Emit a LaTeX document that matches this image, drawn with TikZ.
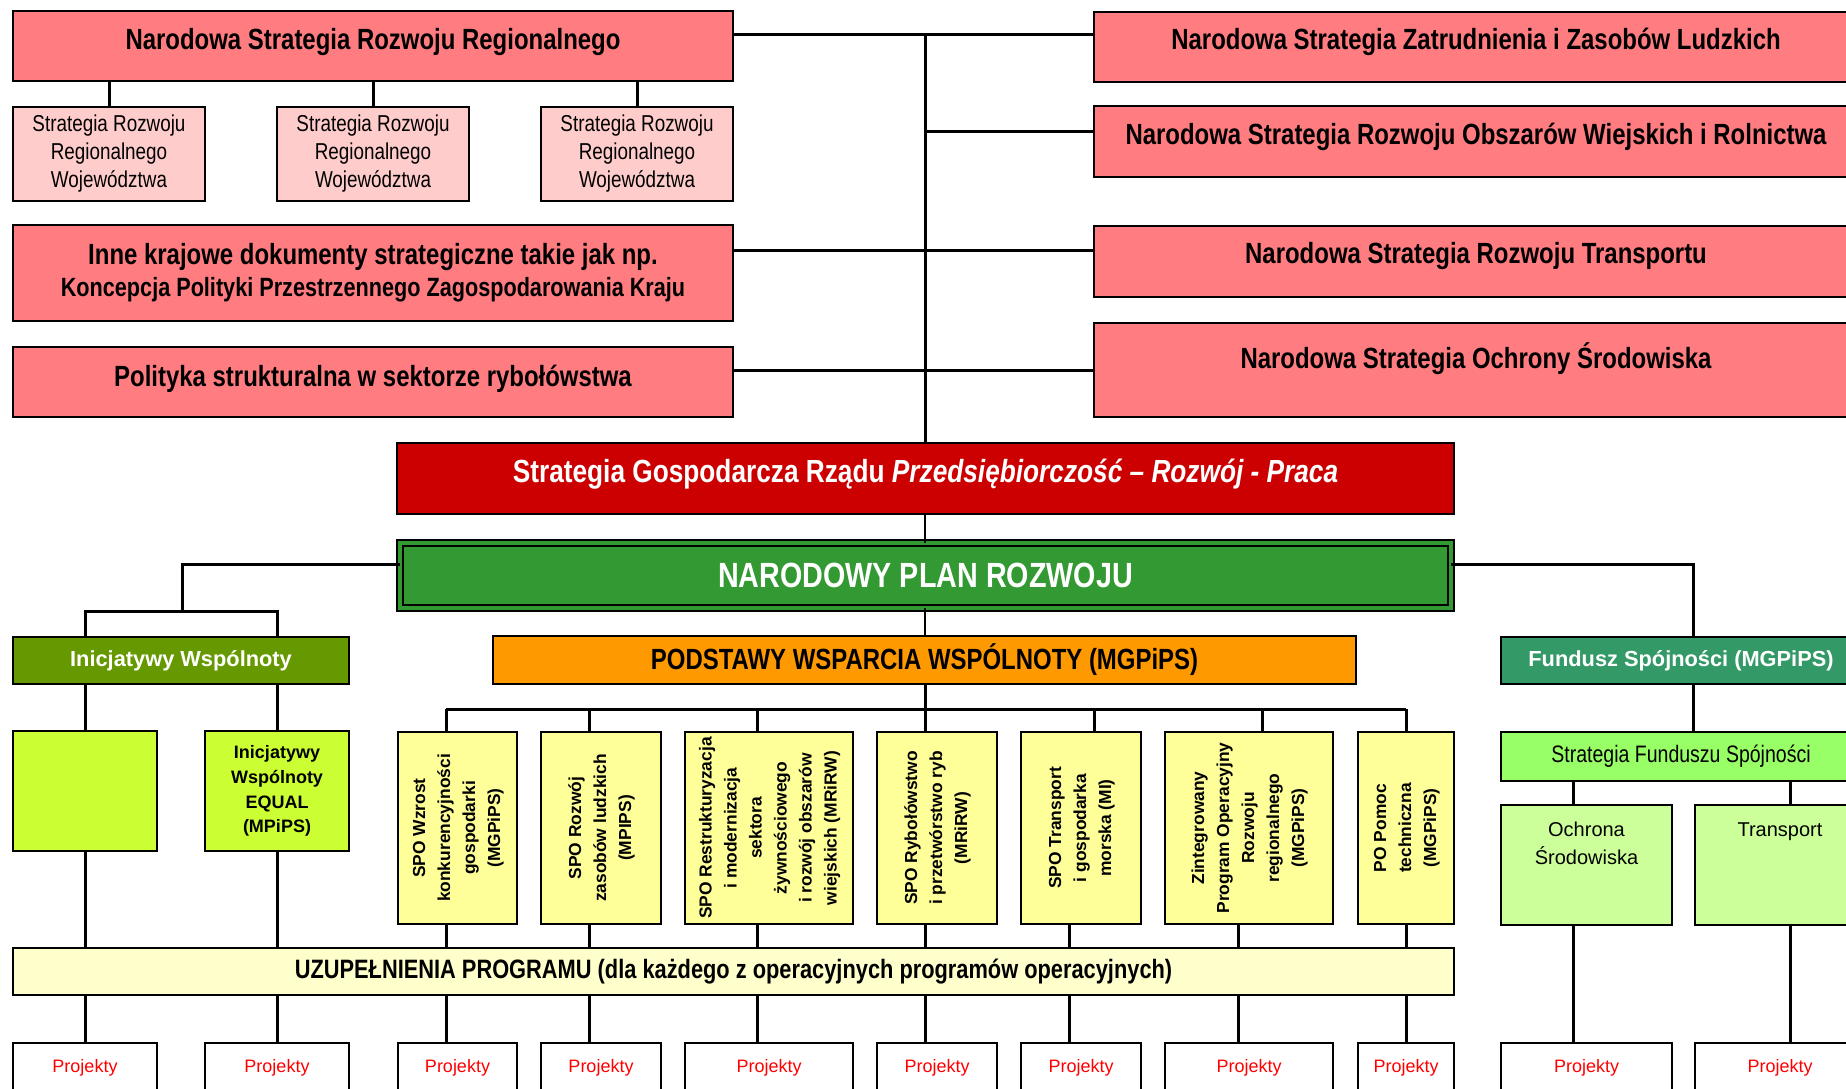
\documentclass[tikz,border=0pt]{standalone}
\usepackage{fontspec}
\usepackage{graphicx}
\setmainfont{Liberation Sans}[FakeStretch=0.82]
\newfontfamily\widesans{Liberation Sans}

\definecolor{salmon}{HTML}{FF7C80}
\definecolor{pinklight}{HTML}{FFCCCC}
\definecolor{sgrred}{HTML}{CC0000}
\definecolor{nprgreen}{HTML}{339933}
\definecolor{iwgreen}{HTML}{669900}
\definecolor{limegreen}{HTML}{CCFF33}
\definecolor{pwsorange}{HTML}{FF9900}
\definecolor{spoyellow}{HTML}{FFFF99}
\definecolor{uzupyellow}{HTML}{FFFFCC}
\definecolor{fsgreen}{HTML}{339966}
\definecolor{sfsgreen}{HTML}{99FF66}
\definecolor{ochgreen}{HTML}{CCFF99}

\newcommand{\vtext}[1]{\rotatebox{90}{\begin{tabular}{@{}c@{}}#1\end{tabular}}}

\tikzset{
  box/.style={draw=black, line width=1.2pt, anchor=north west, inner sep=1pt, outer sep=0pt, align=center},
  lift/.style={text height=10pt, text depth=#1},
  redbox/.style={box, fill=salmon, font=\fontsize{14.6}{17}\selectfont\bfseries},
  subbox/.style={box, fill=pinklight, minimum width=96pt, minimum height=47pt, font=\fontsize{11.5}{14}\selectfont},
  spobox/.style={box, fill=spoyellow, minimum height=96pt, inner sep=0pt, font=\widesans\fontsize{8.7}{12.5}\selectfont\bfseries},
  pbox/.style={box, fill=white, text=red, minimum height=25pt, font=\widesans\fontsize{9}{11}\selectfont},
  link/.style={line width=1.5pt},
  thinlink/.style={line width=0.7pt}
}

\begin{document}
\begin{tikzpicture}[x=1pt, y=-1pt]
\useasboundingbox (0,0) rectangle (923,544);
\clip (0,0) rectangle (923,544);

\node[redbox, lift=7pt, minimum width=360pt, minimum height=35pt] (nsrr) at (6.5,5.5) {Narodowa Strategia Rozwoju Regionalnego};
\node[subbox] (srw1) at (6.5,53.5) {Strategia Rozwoju\\Regionalnego\\Województwa};
\node[subbox] (srw2) at (138.5,53.5) {Strategia Rozwoju\\Regionalnego\\Województwa};
\node[subbox] (srw3) at (270.5,53.5) {Strategia Rozwoju\\Regionalnego\\Województwa};
\node[redbox, minimum width=360pt, minimum height=48pt] (inne) at (6.5,112.5) {Inne krajowe dokumenty strategiczne takie jak np.\\[-1pt]{\fontsize{13.2}{16}\selectfont Koncepcja Polityki Przestrzennego Zagospodarowania Kraju}};
\node[redbox, lift=6pt, minimum width=360pt, minimum height=35pt] (polit) at (6.5,173.5) {Polityka strukturalna w sektorze rybołówstwa};

\node[redbox, lift=8pt, minimum width=382pt, minimum height=35pt] (nszat) at (547,6) {Narodowa Strategia Zatrudnienia i Zasobów Ludzkich};
\node[redbox, lift=7pt, minimum width=382pt, minimum height=35.5pt] (nsrow) at (547,53) {Narodowa Strategia Rozwoju Obszarów Wiejskich i Rolnictwa};
\node[redbox, lift=8pt, minimum width=382pt, minimum height=35.5pt] (nstra) at (547,113) {Narodowa Strategia Rozwoju Transportu};
\node[redbox, lift=12pt, minimum width=382pt, minimum height=47pt] (nsos) at (547,161.5) {Narodowa Strategia Ochrony Środowiska};

\node[box, fill=sgrred, text=white, lift=6pt, font=\fontsize{16}{19}\selectfont\bfseries, minimum width=528.5pt, minimum height=35.5pt] (sgr) at (198.5,221.5) {Strategia Gospodarcza Rządu \textit{Przedsiębiorczość – Rozwój - Praca}};
\node[box, fill=nprgreen, line width=0.8pt, double=nprgreen, double distance=2.2pt, text=white, font=\fontsize{17.5}{20}\selectfont\bfseries, minimum width=525.5pt, minimum height=32.5pt] (npr) at (200,271.5) {NARODOWY PLAN ROZWOJU};

\node[box, fill=iwgreen, text=white, font=\widesans\fontsize{10.9}{13}\selectfont\bfseries, minimum width=168pt, minimum height=23.5pt] (iw) at (6.5,318.5) {Inicjatywy Wspólnoty};
\node[box, fill=limegreen, minimum width=72pt, minimum height=60pt] (iwa) at (6.5,365.5) {};
\node[box, fill=limegreen, font=\widesans\fontsize{9}{12.4}\selectfont\bfseries, minimum width=72pt, minimum height=60pt] (iwb) at (102.5,365.5) {Inicjatywy\\Wspólnoty\\EQUAL\\(MPiPS)};

\node[box, fill=pwsorange, font=\fontsize{14.6}{17}\selectfont\bfseries, minimum width=431.5pt, minimum height=24pt] (pws) at (246.5,318) {PODSTAWY WSPARCIA WSPÓLNOTY (MGPiPS)};
\node[spobox, minimum width=59.5pt] (spo1) at (199,366) {\vtext{SPO Wzrost\\konkurencyjności\\gospodarki\\(MGPiPS)}};
\node[spobox, minimum width=60pt] (spo2) at (270.5,366) {\vtext{SPO Rozwój\\zasobów ludzkich\\(MPIPS)}};
\node[spobox, minimum width=84pt] (spo3) at (342.5,366) {\vtext{SPO Restrukturyzacja\\i modernizacja\\sektora\\żywnościowego\\i rozwój obszarów\\wiejskich (MRiRW)}};
\node[spobox, minimum width=60pt] (spo4) at (438.5,366) {\vtext{SPO Rybołówstwo\\i przetwórstwo ryb\\(MRiRW)}};
\node[spobox, minimum width=60pt] (spo5) at (510.5,366) {\vtext{SPO Transport\\i gospodarka\\morska (MI)}};
\node[spobox, minimum width=84pt] (spo6) at (582.5,366) {\vtext{Zintegrowany\\Program Operacyjny\\Rozwoju\\regionalnego\\(MGPiPS)}};
\node[spobox, minimum width=48pt] (spo7) at (679,366) {\vtext{PO Pomoc\\techniczna\\(MGPiPS)}};

\node[box, fill=fsgreen, text=white, font=\widesans\fontsize{10.9}{13}\selectfont\bfseries, minimum width=180pt, minimum height=23.5pt] (fs) at (750.5,318.5) {Fundusz Spójności (MGPiPS)};
\node[box, fill=sfsgreen, font=\fontsize{11.9}{14}\selectfont, minimum width=180pt, minimum height=24.5pt] (sfs) at (750.5,366) {Strategia Funduszu Spójności};
\node[box, fill=ochgreen, minimum width=85.5pt, minimum height=60pt] (och) at (750.5,402.5) {};
\node[box, fill=ochgreen, minimum width=85pt, minimum height=60pt] (tra) at (847.5,402.5) {};
\node[anchor=north, inner sep=8.5pt, align=center, font=\widesans\fontsize{10}{14}\selectfont] (ochtxt) at (och.north) {Ochrona\\Środowiska};
\node[anchor=north, inner sep=8.5pt, align=center, font=\widesans\fontsize{10}{14}\selectfont] (tratxt) at (tra.north) {Transport};

\node[box, fill=uzupyellow, font=\fontsize{13.3}{16}\selectfont\bfseries, minimum width=720.5pt, minimum height=23.5pt] (uzup) at (6.5,474) {UZUPEŁNIENIA PROGRAMU (dla każdego z operacyjnych programów operacyjnych)};

\node[pbox, minimum width=72pt] (pj1) at (6.5,521.5) {Projekty};
\node[pbox, minimum width=72pt] (pj2) at (102.5,521.5) {Projekty};
\node[pbox, minimum width=59.5pt] (pj3) at (199,521.5) {Projekty};
\node[pbox, minimum width=60pt] (pj4) at (270.5,521.5) {Projekty};
\node[pbox, minimum width=84pt] (pj5) at (342.5,521.5) {Projekty};
\node[pbox, minimum width=60pt] (pj6) at (438.5,521.5) {Projekty};
\node[pbox, minimum width=60pt] (pj7) at (510.5,521.5) {Projekty};
\node[pbox, minimum width=84pt] (pj8) at (582.5,521.5) {Projekty};
\node[pbox, minimum width=48pt] (pj9) at (679,521.5) {Projekty};
\node[pbox, minimum width=85.5pt] (pj10) at (750.5,521.5) {Projekty};
\node[pbox, minimum width=85pt] (pj11) at (847.5,521.5) {Projekty};

\coordinate (tA) at (462.5,17);
\coordinate (tB) at (462.5,65.5);
\coordinate (tC) at (462.5,125);
\coordinate (tD) at (462.5,185);
\draw[link] (nsrr.east |- tA) -- (nszat.west |- tA);
\draw[link] (tB) -- (nsrow.west |- tB);
\draw[link] (inne.east |- tC) -- (nstra.west |- tC);
\draw[link] (polit.east |- tD) -- (nsos.west |- tD);
\draw[link] (tA) -- (tA |- sgr.north);
\draw[link] (srw1.north) -- (srw1.north |- nsrr.south);
\draw[link] (srw2.north) -- (srw2.north |- nsrr.south);
\draw[link] (srw3.north) -- (srw3.north |- nsrr.south);
\draw[thinlink] (sgr.south -| tA) -- (npr.north -| tA);
\draw[thinlink] (npr.south -| tA) -- (pws.north -| tA);

\coordinate (lbend) at (91,282);
\coordinate (lfork) at (91,305.5);
\draw[link] (npr.west |- lbend) -- (lbend) -- (lfork);
\draw[link] (iw.north -| iwa.north) |- (lfork) -| (iw.north -| iwb.north);
\draw[link] (iwa.north) -- (iwa.north |- iw.south);
\draw[link] (iwb.north) -- (iwb.north |- iw.south);
\draw[link] (iwa.south) -- (iwa.south |- uzup.north) (iwa.south |- uzup.south) -- (pj1.north);
\draw[link] (iwb.south) -- (iwb.south |- uzup.north) (iwb.south |- uzup.south) -- (pj2.north);

\coordinate (barL) at (223,354.5);
\coordinate (barR) at (703,354.5);
\draw[link] (pws.south -| tA) -- (tA |- barL);
\draw[link] (barL) -- (barR);
\draw[link] (barL) -- (spo1.north -| barL);
\draw[link] (barL -| 294.5,0) -- (spo2.north -| 294.5,0);
\draw[link] (barL -| 378.5,0) -- (spo3.north -| 378.5,0);
\draw[link] (barL -| 462.5,0) -- (spo4.north -| 462.5,0);
\draw[link] (barL -| 547,0) -- (spo5.north -| 547,0);
\draw[link] (barL -| 631,0) -- (spo6.north -| 631,0);
\draw[link] (barR) -- (spo7.north -| barR);

\draw[link] (spo1.south -| 223,0) -- (uzup.north -| 223,0) (uzup.south -| 223,0) -- (pj3.north -| 223,0);
\draw[link] (spo2.south -| 294.5,0) -- (uzup.north -| 294.5,0) (uzup.south -| 294.5,0) -- (pj4.north -| 294.5,0);
\draw[link] (spo3.south -| 378.5,0) -- (uzup.north -| 378.5,0) (uzup.south -| 378.5,0) -- (pj5.north -| 378.5,0);
\draw[link] (spo4.south -| 462.5,0) -- (uzup.north -| 462.5,0) (uzup.south -| 462.5,0) -- (pj6.north -| 462.5,0);
\draw[link] (spo5.south -| 534.5,0) -- (uzup.north -| 534.5,0) (uzup.south -| 534.5,0) -- (pj7.north -| 534.5,0);
\draw[link] (spo6.south -| 619,0) -- (uzup.north -| 619,0) (uzup.south -| 619,0) -- (pj8.north -| 619,0);
\draw[link] (spo7.south -| 703,0) -- (uzup.north -| 703,0) (uzup.south -| 703,0) -- (pj9.north -| 703,0);

\coordinate (rbend) at (846.5,282);
\draw[link] (npr.east |- rbend) -- (rbend) -- (rbend |- fs.north);
\draw[link] (fs.south -| rbend) -- (sfs.north -| rbend);
\draw[link] (sfs.south -| 786.5,0) -- (och.north -| 786.5,0);
\draw[link] (sfs.south -| 895,0) -- (tra.north -| 895,0);
\draw[link] (och.south -| 786.5,0) -- (pj10.north -| 786.5,0);
\draw[link] (tra.south -| 895,0) -- (pj11.north -| 895,0);
\end{tikzpicture}
\end{document}
